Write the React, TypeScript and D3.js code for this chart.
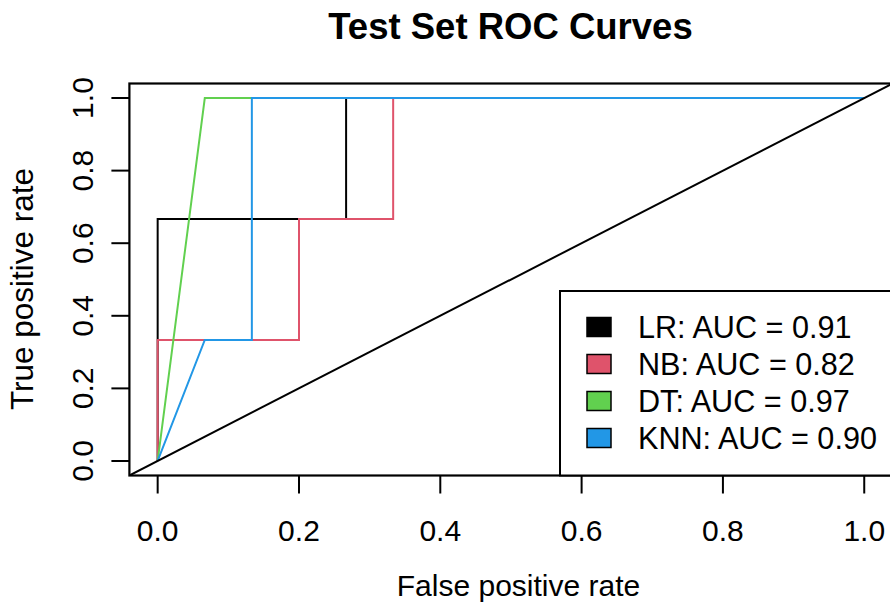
import * as d3 from 'd3';
import React from 'react';

// ROC points (fpr / tpr per model)
const models = ['LR', 'NB', 'DT', 'KNN'];
const colors = ['#000000', '#DF536B', '#61D04F', '#2297E6'];
const aucLabels = ['0.91', '0.82', '0.97', '0.90'];

const lrFpr = [0, 0, 0.2667, 0.2667, 1];
const lrTpr = [0, 0.6667, 0.6667, 1, 1];
const nbFpr = [0, 0, 0.2, 0.2, 0.3333, 0.3333, 1];
const nbTpr = [0, 0.3333, 0.3333, 0.6667, 0.6667, 1, 1];
const dtFpr = [0, 0.0667, 1];
const dtTpr = [0, 1, 1];
const knnFpr = [0, 0.0667, 0.1333, 0.1333, 1];
const knnTpr = [0, 0.3333, 0.3333, 1, 1];

const xTicks = [0, 0.2, 0.4, 0.6, 0.8, 1.0];
const yTicks = [0, 0.2, 0.4, 0.6, 0.8, 1.0];

const params = {
  width: 890,
  height: 602,
  left: 129.4,
  right: 892.5,
  top: 83.5,
  bottom: 475.5,
  font: 30,
  tick: 18,
};

const FONT = "'Liberation Sans', Arial, Helvetica, sans-serif";

export default function App() {
  const x = d3.scaleLinear().domain([-0.04, 1.04]).range([params.left, params.right]);
  const y = d3.scaleLinear().domain([-0.04, 1.04]).range([params.bottom, params.top]);

  const series = [
    { fpr: lrFpr, tpr: lrTpr },
    { fpr: nbFpr, tpr: nbTpr },
    { fpr: dtFpr, tpr: dtTpr },
    { fpr: knnFpr, tpr: knnTpr },
  ];

  const line = d3
    .line<[number, number]>()
    .x((d) => x(d[0]))
    .y((d) => y(d[1]));

  const legendTop = 291;
  const legendLeft = 560;
  const rowGap = 37;
  const firstRow = 327;

  return (
    <svg
      width={params.width}
      height={params.height}
      style={{ position: 'absolute', left: 0, top: 0, background: '#fff' }}
      fontFamily={FONT}
    >
      <defs>
        <clipPath id="plotClip">
          <rect x={params.left} y={params.top} width={params.right - params.left} height={params.bottom - params.top} />
        </clipPath>
      </defs>

      <text x={510.5} y={39} textAnchor="middle" fontSize={36.5} fontWeight="bold">
        Test Set ROC Curves
      </text>

      <g clipPath="url(#plotClip)">
        {series.map((s, i) => (
          <path
            key={models[i]}
            d={line(s.fpr.map((f, j) => [f, s.tpr[j]] as [number, number])) || ''}
            fill="none"
            stroke={colors[i]}
            strokeWidth={2}
          />
        ))}
        <path d={line([[-0.04, -0.04], [1.04, 1.04]]) || ''} fill="none" stroke="#000" strokeWidth={2} />
      </g>

      {/* box */}
      <rect
        x={params.left}
        y={params.top}
        width={params.right - params.left}
        height={params.bottom - params.top}
        fill="none"
        stroke="#000"
        strokeWidth={2.2}
      />

      {/* x axis */}
      <g>
        {xTicks.map((t) => (
          <g key={'x' + t}>
            <line x1={x(t)} x2={x(t)} y1={params.bottom} y2={params.bottom + params.tick} stroke="#000" strokeWidth={2} />
            <text x={x(t)} y={541} textAnchor="middle" fontSize={params.font}>
              {t.toFixed(1)}
            </text>
          </g>
        ))}
        <text x={518.5} y={596} textAnchor="middle" fontSize={params.font}>
          False positive rate
        </text>
      </g>

      {/* y axis */}
      <g>
        {yTicks.map((t) => (
          <g key={'y' + t}>
            <line x1={params.left} x2={params.left - params.tick} y1={y(t)} y2={y(t)} stroke="#000" strokeWidth={2} />
            <text
              transform={`translate(93,${y(t)}) rotate(-90)`}
              textAnchor="middle"
              fontSize={params.font}
            >
              {t.toFixed(1)}
            </text>
          </g>
        ))}
        <text
          transform={`translate(33,289) rotate(-90)`}
          textAnchor="middle"
          fontSize={31.5}
        >
          True positive rate
        </text>
      </g>

      {/* legend */}
      <g>
        <rect
          x={legendLeft}
          y={legendTop}
          width={params.right - legendLeft}
          height={params.bottom - legendTop}
          fill="#fff"
          stroke="#000"
          strokeWidth={2}
        />
        {models.map((m, i) => {
          const cy = firstRow + i * rowGap;
          return (
            <g key={'leg' + m}>
              <rect x={587} y={cy - 9.5} width={24} height={19} fill={colors[i]} stroke="#000" strokeWidth={1.5} />
              <text x={638} y={cy + 10.7} fontSize={30.6}>
                {`${m}: AUC = ${aucLabels[i]}`}
              </text>
            </g>
          );
        })}
      </g>
    </svg>
  );
}
